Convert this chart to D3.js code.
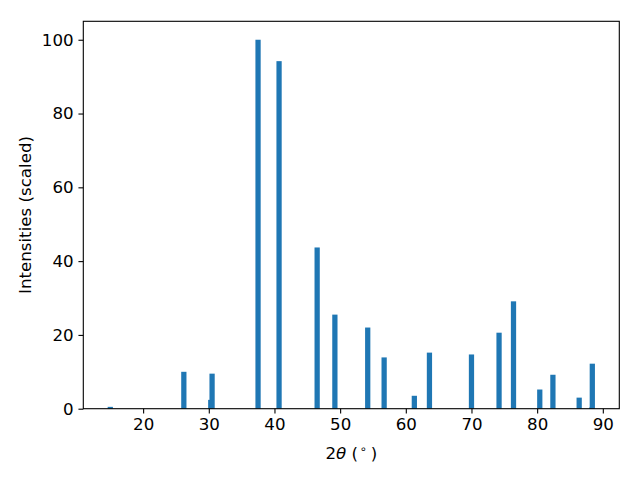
<!DOCTYPE html>
<html>
<head>
<meta charset="utf-8">
<script src="https://cdn.jsdelivr.net/npm/d3@7"></script>
<style>
  body { margin: 0; background: #fff; }
  svg { font-family: "DejaVu Sans", sans-serif; }
</style>
</head>
<body>
<svg id="chart" width="640" height="480"></svg>
<script>
// peak positions (2theta, degrees) and scaled intensities
const positions = [15.0, 26.2, 30.3, 30.5, 37.5, 40.7, 46.5, 49.2, 54.2, 56.7,
  61.3, 63.6, 70.0, 74.2, 76.4, 80.4, 82.4, 86.4, 88.3, 88.4];
const intensities = [0.5, 10.0, 2.4, 9.5, 100, 94.2, 43.7, 25.5, 22.0, 13.9,
  3.5, 15.2, 14.7, 20.6, 29.1, 5.2, 9.2, 3.0, 0.3, 12.2];
const xTicks = [20, 30, 40, 50, 60, 70, 80, 90];
const yTicks = [0, 20, 40, 60, 80, 100];
const barWidth = 0.8;

const peaks = positions.map((p, i) => ({ pos: p, val: intensities[i] }));

const svg = d3.select("#chart");
const margin = { left: 83.3, right: 640 - 619.3, top: 21.3, bottom: 480 - 408.7 };
const width = 640 - margin.left - margin.right;
const height = 480 - margin.top - margin.bottom;

// matplotlib-like autoscale with 5% margins
const lo = d3.min(peaks, d => d.pos - barWidth / 2);
const hi = d3.max(peaks, d => d.pos + barWidth / 2);
const pad = (hi - lo) * 0.05;
const x = d3.scaleLinear().domain([lo - pad, hi + pad]).range([0, width]);
const y = d3.scaleLinear().domain([0, d3.max(intensities) * 1.05]).range([height, 0]);

const g = svg.append("g").attr("transform", `translate(${margin.left},${margin.top})`);

g.selectAll("rect.bar")
  .data(peaks)
  .join("rect")
  .attr("class", "bar")
  .attr("x", d => x(d.pos - barWidth / 2))
  .attr("width", d => x(d.pos + barWidth / 2) - x(d.pos - barWidth / 2))
  .attr("y", d => y(d.val))
  .attr("height", d => y(0) - y(d.val))
  .attr("fill", "#1f77b4");

const tickLen = 4.86;
const fontSize = 16.67;

const xAxis = g.append("g")
  .attr("transform", `translate(0,${height})`)
  .call(d3.axisBottom(x).tickValues(xTicks).tickSize(tickLen).tickPadding(4.86).tickFormat(d3.format("d")));
const yAxis = g.append("g")
  .call(d3.axisLeft(y).tickValues(yTicks).tickSize(tickLen).tickPadding(4.86).tickFormat(d3.format("d")));

[xAxis, yAxis].forEach(a => {
  a.select(".domain").remove();
  a.selectAll(".tick line").attr("stroke", "#000").attr("stroke-width", 1.1);
  a.selectAll(".tick text").attr("fill", "#000").style("font-size", fontSize + "px")
    .style("font-family", "DejaVu Sans");
});

// frame
g.append("rect")
  .attr("width", width).attr("height", height)
  .attr("fill", "none").attr("stroke", "#000").attr("stroke-width", 1.1);

// axis labels
const xl = svg.append("text")
  .attr("x", margin.left + width / 2)
  .attr("y", 459)
  .attr("text-anchor", "middle")
  .style("font-size", fontSize + "px");
xl.append("tspan").text("2");
xl.append("tspan").style("font-style", "italic").text("θ");
xl.append("tspan").text(" (");
xl.append("tspan").attr("dx", 1.5).attr("dy", -6).style("font-size", "11.5px").text("∘");
xl.append("tspan").attr("dx", 4).attr("dy", 6).text(")");

svg.append("text")
  .attr("transform", `translate(31,${margin.top + height / 2}) rotate(-90)`)
  .attr("text-anchor", "middle")
  .style("font-size", fontSize + "px")
  .text("Intensities (scaled)");
</script>
</body>
</html>
